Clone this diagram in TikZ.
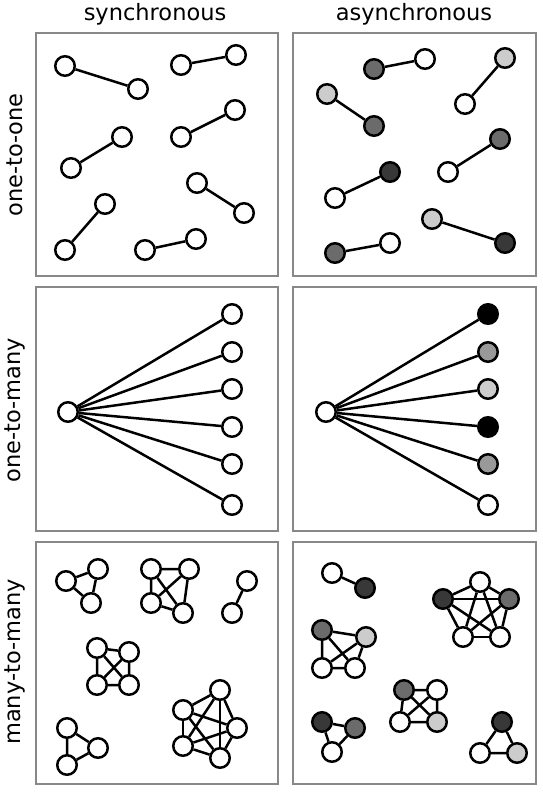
\documentclass[tikz,border=0pt]{standalone}
\usepackage{fontspec}
\setsansfont{DejaVu Sans}
\definecolor{cLight}{HTML}{CCCCCC}
\definecolor{cMid}{HTML}{6B6B6B}
\definecolor{cDark}{HTML}{383838}
\definecolor{cGray}{HTML}{999999}
\definecolor{cFrame}{HTML}{888888}
\tikzset{
  vtx/.style={circle,draw=black,line width=2.5pt,minimum size=19.5pt,inner sep=0pt,fill=white},
  lt/.style={vtx,fill=cLight},
  md/.style={vtx,fill=cMid},
  dk/.style={vtx,fill=cDark},
  gy/.style={vtx,fill=cGray},
  bk/.style={vtx,fill=black},
  lnk/.style={line width=2.5pt,black},
  panel/.style={draw=cFrame,line width=1.6pt},
  head/.style={font=\sffamily\fontsize{22.5}{26}\selectfont,inner sep=0pt}
}
\begin{document}
\begin{tikzpicture}[x=1pt,y=-1pt]
\useasboundingbox (0,0) rectangle (543,792);
\fill[white] (0,0) rectangle (543,792);
% panels
\draw[panel] (36,33) rectangle (278,276);
\draw[panel] (293,33) rectangle (536,276);
\draw[panel] (36,287) rectangle (278,531);
\draw[panel] (293,287) rectangle (536,531);
\draw[panel] (36,542) rectangle (278,784);
\draw[panel] (293,542) rectangle (536,784);
% headings
\node[head] (hs) at (155,14) {synchronous};
\node[head] (ha) at (414,14) {asynchronous};
\node[head,rotate=90] (r1) at (15,155) {one-to-one};
\node[head,rotate=90] (r2) at (15,410) {one-to-many};
\node[head,rotate=90] (r3) at (15,662) {many-to-many};
% ---------- sync one-to-one
\node[vtx] (a1) at (65,66) {}; \node[vtx] (a2) at (138,89) {};
\node[vtx] (b1) at (181,65) {}; \node[vtx] (b2) at (236,55) {};
\node[vtx] (c1) at (71,168) {}; \node[vtx] (c2) at (122,137) {};
\node[vtx] (d1) at (181,137) {}; \node[vtx] (d2) at (235,110) {};
\node[vtx] (e1) at (197,183) {}; \node[vtx] (e2) at (244,213) {};
\node[vtx] (f1) at (105,204) {}; \node[vtx] (f2) at (65,250) {};
\node[vtx] (g1) at (145,250) {}; \node[vtx] (g2) at (196,239) {};
\foreach \p in {a,b,c,d,e,f,g} \draw[lnk] (\p1) -- (\p2);
% ---------- async one-to-one
\node[md] (h1) at (374,69) {}; \node[vtx] (h2) at (425,59) {};
\node[lt] (i1) at (327,94) {}; \node[md] (i2) at (374,126) {};
\node[lt] (j1) at (505,58) {}; \node[vtx] (j2) at (465,104) {};
\node[dk] (k1) at (390,172) {}; \node[vtx] (k2) at (335,198) {};
\node[md] (l1) at (500,139) {}; \node[vtx] (l2) at (448,172) {};
\node[lt] (m1) at (432,219) {}; \node[dk] (m2) at (505,243) {};
\node[md] (n1) at (335,253) {}; \node[vtx] (n2) at (390,243) {};
\foreach \p in {h,i,j,k,l,m,n} \draw[lnk] (\p1) -- (\p2);
% ---------- sync one-to-many
\node[vtx] (s0) at (68,412) {};
\node[vtx] (s1) at (232,314) {};
\node[vtx] (s2) at (232,352) {};
\node[vtx] (s3) at (232,389) {};
\node[vtx] (s4) at (232,427) {};
\node[vtx] (s5) at (232,464) {};
\node[vtx] (s6) at (232,505) {};
\foreach \i in {1,...,6} \draw[lnk] (s0) -- (s\i);
% ---------- async one-to-many
\node[vtx] (t0) at (326,412) {};
\node[bk] (t1) at (488,314) {};
\node[gy] (t2) at (488,352) {};
\node[lt] (t3) at (488,389) {};
\node[bk] (t4) at (488,427) {};
\node[gy] (t5) at (488,464) {};
\node[vtx] (t6) at (488,505) {};
\foreach \i in {1,...,6} \draw[lnk] (t0) -- (t\i);
% ---------- sync many-to-many
\node[vtx] (p1) at (66,581) {}; \node[vtx] (p2) at (98,569) {}; \node[vtx] (p3) at (91,603) {};
\draw[lnk] (p1) -- (p2) (p1) -- (p3) (p2) -- (p3);
\node[vtx] (q1) at (151,569) {}; \node[vtx] (q2) at (189,569) {}; \node[vtx] (q3) at (151,603) {}; \node[vtx] (q4) at (183,613) {};
\draw[lnk] (q1) -- (q2) (q1) -- (q3) (q1) -- (q4) (q2) -- (q3) (q2) -- (q4) (q3) -- (q4);
\node[vtx] (u1) at (247,581) {}; \node[vtx] (u2) at (232,613) {};
\draw[lnk] (u1) -- (u2);
\node[vtx] (v1) at (97,648) {}; \node[vtx] (v2) at (129,652) {}; \node[vtx] (v3) at (97,685) {}; \node[vtx] (v4) at (129,685) {};
\draw[lnk] (v1) -- (v2) (v1) -- (v3) (v1) -- (v4) (v2) -- (v3) (v2) -- (v4) (v3) -- (v4);
\node[vtx] (w1) at (67,728) {}; \node[vtx] (w2) at (98,748) {}; \node[vtx] (w3) at (67,765) {};
\draw[lnk] (w1) -- (w2) (w1) -- (w3) (w2) -- (w3);
\node[vtx] (x1) at (220,690) {}; \node[vtx] (x2) at (183,710) {}; \node[vtx] (x3) at (237,728) {}; \node[vtx] (x4) at (183,746) {}; \node[vtx] (x5) at (220,758) {};
\foreach \a/\b in {1/2,1/3,1/4,1/5,2/3,2/4,2/5,3/4,3/5,4/5} \draw[lnk] (x\a) -- (x\b);
% ---------- async many-to-many
\node[vtx] (y1) at (332,573) {}; \node[dk] (y2) at (365,588) {};
\draw[lnk] (y1) -- (y2);
\node[vtx] (z1) at (480,582) {}; \node[dk] (z2) at (443,599) {}; \node[md] (z3) at (509,599) {}; \node[vtx] (z4) at (463,637) {}; \node[vtx] (z5) at (500,637) {};
\foreach \a/\b in {1/2,1/3,1/4,1/5,2/3,2/4,2/5,3/4,3/5,4/5} \draw[lnk] (z\a) -- (z\b);
\node[md] (o1) at (322,630) {}; \node[lt] (o2) at (366,637) {}; \node[vtx] (o3) at (322,668) {}; \node[vtx] (o4) at (355,668) {};
\draw[lnk] (o1) -- (o2) (o1) -- (o3) (o1) -- (o4) (o2) -- (o3) (o2) -- (o4) (o3) -- (o4);
\node[md] (r5) at (404,690) {}; \node[vtx] (r6) at (437,690) {}; \node[vtx] (r7) at (400,722) {}; \node[lt] (r8) at (437,722) {};
\draw[lnk] (r5) -- (r6) (r5) -- (r7) (r5) -- (r8) (r6) -- (r7) (r6) -- (r8) (r7) -- (r8);
\node[dk] (k5) at (322,722) {}; \node[md] (k6) at (355,728) {}; \node[vtx] (k7) at (332,752) {};
\draw[lnk] (k5) -- (k6) (k5) -- (k7) (k6) -- (k7);
\node[dk] (g5) at (502,722) {}; \node[vtx] (g6) at (480,753) {}; \node[lt] (g7) at (517,753) {};
\draw[lnk] (g5) -- (g6) (g5) -- (g7) (g6) -- (g7);
\end{tikzpicture}
\end{document}
